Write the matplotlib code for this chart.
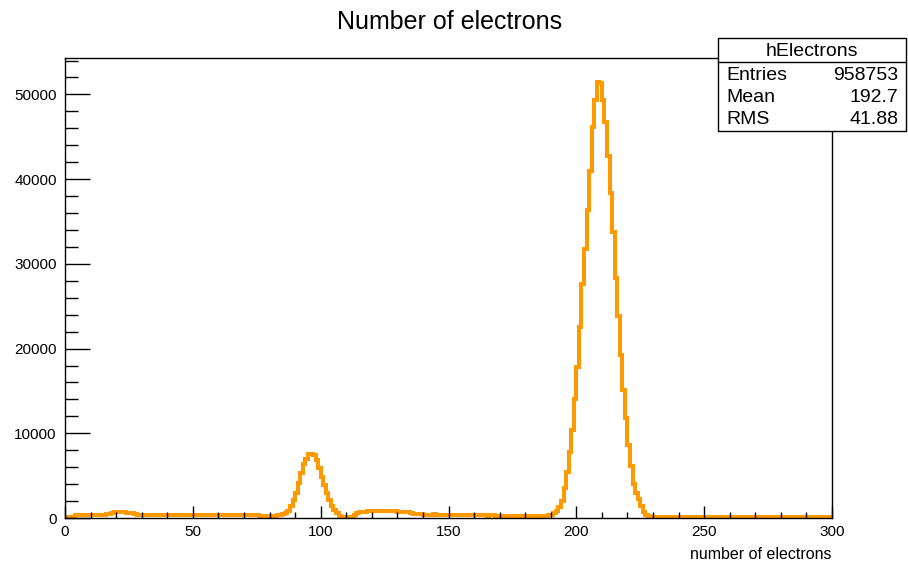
import matplotlib
matplotlib.use("Agg")
import matplotlib.pyplot as plt
from matplotlib.patches import Rectangle
from matplotlib.lines import Line2D

plt.rcParams['font.family'] = ['Liberation Sans', 'DejaVu Sans']

# histogram contents, 300 bins of width 1 from 0 to 300
bin_edges = list(range(0, 301))
counts = [
    150, 150, 160, 170, 380, 400, 400, 410, 400, 400,          # 0-9
    410, 400, 400, 400, 410, 400, 420, 450, 600, 650,          # 10-19
    680, 700, 680, 650, 620, 600, 550, 420, 400, 400,          # 20-29
    400, 410, 400, 400, 400, 390, 400, 400, 410, 400,          # 30-39
    400, 400, 390, 400, 400, 400, 410, 400, 400, 390,          # 40-49
    400, 400, 400, 390, 400, 400, 400, 390, 380, 400,          # 50-59
    390, 380, 380, 390, 380, 380, 370, 380, 370, 370,          # 60-69
    360, 370, 360, 350, 340, 300, 280, 260, 250, 250,          # 70-79
    260, 260, 280, 300, 350, 450, 600, 780, 1360, 2070,        # 80-89
    2920, 4090, 5260, 6430, 7020, 7520, 7600, 7400, 6820, 5850,  # 90-99
    4870, 3900, 2920, 2140, 1440, 970, 580, 270, 150, 120,     # 100-109
    100, 110, 150, 300, 550, 650, 720, 760, 780, 800,          # 110-119
    800, 810, 800, 790, 800, 810, 800, 790, 780, 770,          # 120-129
    760, 760, 740, 720, 700, 560, 450, 430, 420, 420,          # 130-139
    410, 410, 400, 400, 420, 410, 400, 400, 390, 380,          # 140-149
    380, 370, 360, 330, 310, 300, 300, 310, 300, 300,          # 150-159
    300, 300, 310, 300, 300, 290, 300, 300, 290, 290,          # 160-169
    290, 280, 290, 280, 280, 270, 270, 260, 260, 250,          # 170-179
    250, 240, 230, 220, 200, 180, 150, 200, 250, 300,          # 180-189
    400, 550, 850, 1300, 2000, 3500, 5450, 7800, 10400, 14100,   # 190-199
    17800, 22600, 27600, 31800, 36400, 41000, 46100, 49400, 51500, 51300,  # 200-209
    49400, 46800, 42700, 38400, 33800, 28300, 23800, 19200, 15100, 11800,  # 210-219
    8600, 6100, 4000, 3000, 2200, 1440, 700, 350, 200, 150,    # 220-229
    140, 130, 130, 120, 120, 120, 110, 110, 110, 100,          # 230-239
    100, 100, 100, 100, 100, 100, 100, 100, 100, 100,          # 240-249
    100, 100, 100, 100, 100, 100, 100, 100, 100, 100,          # 250-259
    100, 100, 100, 100, 100, 100, 100, 100, 100, 100,          # 260-269
    100, 100, 100, 100, 100, 100, 100, 100, 100, 100,          # 270-279
    100, 100, 100, 100, 100, 100, 100, 100, 100, 100,          # 280-289
    100, 100, 100, 100, 100, 100, 100, 100, 100, 100,          # 290-299
]

stats_name = 'hElectrons'
stats_labels = ['Entries', 'Mean', 'RMS']
stats_values = ['958753', '192.7', '41.88']

W, H = 908, 565
fig = plt.figure(figsize=(W / 100, H / 100), dpi=100)
ax = fig.add_axes([65 / W, 1 - 518 / H, (832 - 65) / W, (518 - 58) / H])

ax.stairs(counts, bin_edges, color='#ff9900', linewidth=2.9)

ax.set_xlim(0, 300)
ax.set_ylim(0, 54300)
ax.set_xticks(range(0, 301, 50))
ax.set_xticks(range(0, 301, 10), minor=True)
ax.set_yticks(range(0, 50001, 10000))
ax.set_yticks(range(0, 54001, 2000), minor=True)
ax.tick_params(axis='both', which='both', direction='in', top=False, right=False,
               labelsize=11, colors='black', width=1)
ax.tick_params(axis='x', which='major', length=9, pad=5)
ax.tick_params(axis='x', which='minor', length=4.5)
ax.tick_params(axis='y', which='major', length=18, pad=6)
ax.tick_params(axis='y', which='minor', length=9)
for s in ax.spines.values():
    s.set_linewidth(1)

ax.set_xlabel('number of electrons', fontsize=11.5, loc='right', labelpad=6)
fig.text(450 / W, 1 - 22 / H, 'Number of electrons', fontsize=18, ha='center', va='center')

# stats box, ROOT style
bx0, by0, bx1, by1 = 718 / W, 1 - 131 / H, 906 / W, 1 - 38 / H
fig.add_artist(Rectangle((bx0, by0), bx1 - bx0, by1 - by0, transform=fig.transFigure,
                         facecolor='white', edgecolor='black', linewidth=1, zorder=5))
fig.add_artist(Line2D([bx0, bx1], [1 - 62 / H] * 2, transform=fig.transFigure,
                      color='black', linewidth=1, zorder=6))
fig.text((bx0 + bx1) / 2, 1 - 51 / H, stats_name, fontsize=14, ha='center', va='center', zorder=7)
for i, (lab, val) in enumerate(zip(stats_labels, stats_values)):
    yy = 1 - (76 + 22 * i) / H
    fig.text(726 / W, yy, lab, fontsize=14, ha='left', va='center', zorder=7)
    fig.text(898 / W, yy, val, fontsize=14, ha='right', va='center', zorder=7)

fig.savefig('out.png', dpi=100)
